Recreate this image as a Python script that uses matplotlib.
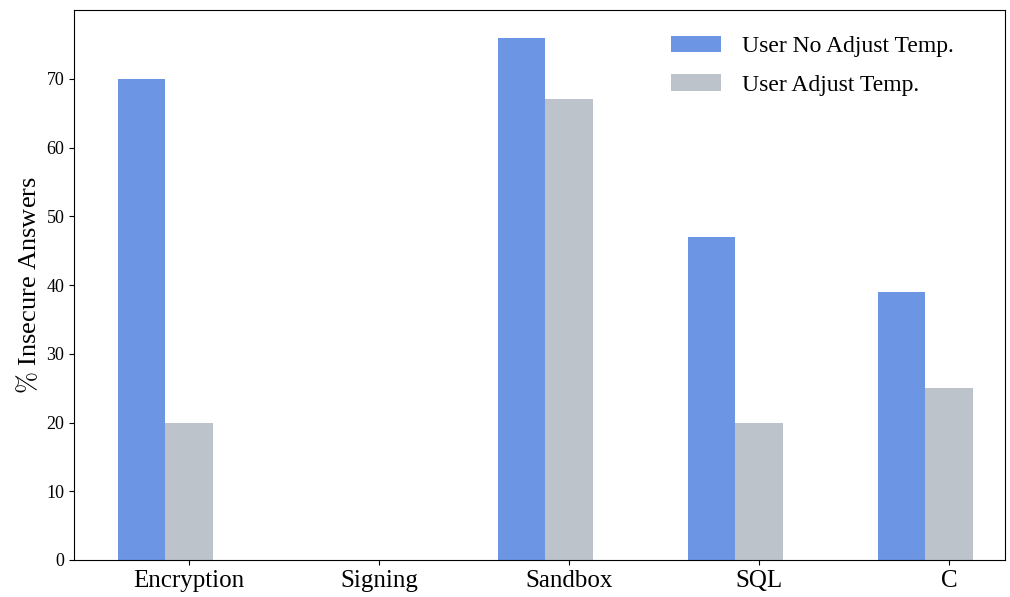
import numpy as np
import matplotlib
matplotlib.use('Agg')
import matplotlib.pyplot as plt

categories = ['Encryption', 'Signing', 'Sandbox', 'SQL', 'C']
no_adjust = [70, 0, 76, 47, 39]
adjust = [20, 0, 67, 20, 25]
series_names = ['User No Adjust Temp.', 'User Adjust Temp.']
yticks = [0, 10, 20, 30, 40, 50, 60, 70]

plt.rcParams['font.family'] = ['Liberation Serif', 'DejaVu Serif']
plt.rcParams['mathtext.fontset'] = 'cm'

fig = plt.figure(figsize=(10.1, 5.97), dpi=100)
ax = fig.add_axes([74/1010, 37/597, 931/1010, 550/597])

x = np.arange(len(categories))
w = 0.25
ax.bar(x - w, no_adjust, w, color='#6c96e4', label=series_names[0])
ax.bar(x, adjust, w, color='#bcc3cb', label=series_names[1])

ax.set_xlim(-0.605, 4.295)
ax.set_ylim(0, 80)
ax.set_xticks(x)
ax.set_xticklabels(categories, fontsize=18)
ax.set_yticks(yticks)
ax.tick_params(axis='y', labelsize=13)
ax.set_ylabel(r'$\%$ Insecure Answers', fontsize=19)
ax.legend(loc='upper right', bbox_to_anchor=(0.955, 0.97), borderaxespad=0,
          frameon=False, fontsize=17, handlelength=2.1, handletextpad=0.9,
          labelspacing=0.7)

plt.savefig('out.png', dpi=100)
